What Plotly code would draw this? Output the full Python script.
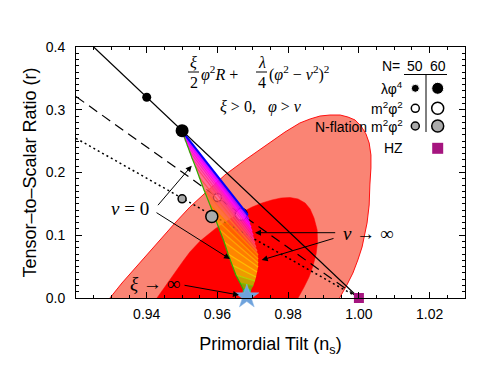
import plotly.graph_objects as go

# Planck-like confidence regions (ns, r)
c95_ns = [0.9259, 0.9296, 0.9330, 0.9367, 0.9401, 0.9438, 0.9480, 0.9522, 0.9570, 0.9621,
          0.9678, 0.9734, 0.9791, 0.9833, 0.9862, 0.9890, 0.9918, 0.9947, 0.9969, 0.9989,
          1.0006, 1.0020, 1.0029, 1.0034, 1.0034, 1.0031, 1.0029, 1.0023, 1.0017, 1.0009,
          0.9997, 0.9983, 0.9966, 0.9947, 0.9921]
c95_r = [-0.024, 0.0, 0.0239, 0.0478, 0.0701, 0.0924, 0.1195, 0.1450, 0.1705, 0.1960,
         0.2199, 0.2422, 0.2645, 0.2789, 0.2853, 0.2900, 0.2916, 0.2916, 0.2884, 0.2837,
         0.2741, 0.2614, 0.2470, 0.2279, 0.2072, 0.1801, 0.1482, 0.1195, 0.1004, 0.0813,
         0.0606, 0.0398, 0.0207, 0.0032, -0.024]

c68_ns = [0.9404, 0.9429, 0.9455, 0.9480, 0.9503, 0.9522, 0.9551, 0.9593, 0.9644, 0.9698,
          0.9726, 0.9754, 0.9780, 0.9805, 0.9828, 0.9848, 0.9862, 0.9873, 0.9882, 0.9883,
          0.9879, 0.9870, 0.9859, 0.9845, 0.9828, 0.9811]
c68_r = [-0.024, 0.0, 0.0207, 0.0414, 0.0590, 0.0733, 0.0908, 0.1100, 0.1291, 0.1450,
         0.1514, 0.1562, 0.1594, 0.1602, 0.1578, 0.1514, 0.1418, 0.1275, 0.1084, 0.0892,
         0.0701, 0.0510, 0.0335, 0.0175, 0.0, -0.024]

# model lines
lam_ns, lam_r = [0.925, 1.0], [0.40, 0.0]
m2_ns, m2_r = [0.92, 1.0], [0.321, 0.0]
nfl_ns, nfl_r = [0.92, 1.0], [0.2545, 0.0]

# model points, N = 50 and 60
lam_pts_ns, lam_pts_r = [0.94, 0.95], [0.32, 0.2667]
m2_pts_ns, m2_pts_r = [0.96, 0.9667], [0.16, 0.1333]
nfl_pts_ns, nfl_pts_r = [0.95, 0.9584], [0.158, 0.130]
hz_ns, hz_r = [1.0], [0.0]
star_ns, star_r = [0.9683], [0.002]

# non-minimal coupling fan: constant-xi lines from the v=0 edge to the v->inf edge
fan_left_ns = [0.9500, 0.9503, 0.9505, 0.9508, 0.9514, 0.9520, 0.9528, 0.9537, 0.9548, 0.9562,
               0.9579, 0.9593, 0.9607, 0.9619, 0.9630, 0.9641, 0.9652, 0.9664, 0.9672, 0.9681]
fan_left_r = [0.2661, 0.2614, 0.2566, 0.2518, 0.2438, 0.2343, 0.2231, 0.2104, 0.1928, 0.1721,
              0.1482, 0.1275, 0.1084, 0.0892, 0.0701, 0.0526, 0.0367, 0.0239, 0.0143, 0.0048]
fan_right_ns = [0.9686, 0.9689, 0.9692, 0.9695, 0.9698, 0.9701, 0.9703, 0.9706, 0.9709, 0.9712,
                0.9715, 0.9715, 0.9715, 0.9715, 0.9712, 0.9709, 0.9706, 0.9701, 0.9695, 0.9686]
fan_right_r = [0.1323, 0.1259, 0.1195, 0.1131, 0.1068, 0.1004, 0.0940, 0.0876, 0.0813, 0.0749,
               0.0685, 0.0622, 0.0558, 0.0494, 0.0414, 0.0335, 0.0271, 0.0191, 0.0127, 0.0032]
fan_colors = ["#6a00ff", "#b000ff", "#e000ff", "#ff00ff", "#ff10d0", "#ff20b0", "#ff3090",
              "#ff4070", "#ff5050", "#ff6a30", "#ff8000", "#ff9500", "#ffa500", "#ffb300",
              "#ffc000", "#e6d000", "#b0d800", "#70cc00", "#30c040", "#00d0c0"]

X_RANGE = [0.92, 1.03]
Y_RANGE = [0.0, 0.4]
OFF = 8  # page body margin
L, R, T, B = 68, 30, 39, 85
W, H = 487, 375
PW, PH = W - L - R, H - T - B


def dx(X):  # page pixel -> ns
    return X_RANGE[0] + (X - OFF - L) / PW * (X_RANGE[1] - X_RANGE[0])


def dy(Y):  # page pixel -> r
    return Y_RANGE[0] + (T + PH - (Y - OFF)) / PH * (Y_RANGE[1] - Y_RANGE[0])


def rgba(h, a):
    h = h.lstrip("#")
    return "rgba(%d,%d,%d,%s)" % (int(h[0:2], 16), int(h[2:4], 16), int(h[4:6], 16), a)


fig = go.Figure()

fig.add_trace(go.Scatter(x=c95_ns, y=c95_r, mode="lines", fill="toself", fillcolor="#fa8474",
                         line=dict(color="#ff1010", width=1)))
fig.add_trace(go.Scatter(x=c68_ns, y=c68_r, mode="lines", fill="toself", fillcolor="#ff0000",
                         line=dict(color="#ff0000", width=0.5)))

fig.add_trace(go.Scatter(x=m2_ns, y=m2_r, mode="lines", line=dict(color="black", width=1.2, dash="10px,6px")))
fig.add_trace(go.Scatter(x=nfl_ns, y=nfl_r, mode="lines", line=dict(color="black", width=1.5, dash="2px,3px")))
fig.add_trace(go.Scatter(x=lam_ns, y=lam_r, mode="lines", line=dict(color="black", width=1.2)))

fig.add_trace(go.Scatter(x=m2_pts_ns, y=m2_pts_r, mode="markers",
                         marker=dict(size=[8, 12], color="white", opacity=1,
                                     line=dict(color="black", width=1.5))))

# fan bands then lines
n = len(fan_colors)
for i in range(n - 1):
    fig.add_trace(go.Scatter(
        x=[fan_left_ns[i], fan_right_ns[i], fan_right_ns[i + 1], fan_left_ns[i + 1]],
        y=[fan_left_r[i], fan_right_r[i], fan_right_r[i + 1], fan_left_r[i + 1]],
        mode="lines", fill="toself", fillcolor=rgba(fan_colors[i], 0.75), line=dict(width=0)))
for i in range(n):
    fig.add_trace(go.Scatter(x=[fan_left_ns[i], fan_right_ns[i]], y=[fan_left_r[i], fan_right_r[i]],
                             mode="lines", line=dict(color=fan_colors[i], width=1.2)))
fig.add_trace(go.Scatter(x=fan_left_ns, y=fan_left_r, mode="lines", line=dict(color="#33aa00", width=1.2)))
fig.add_trace(go.Scatter(x=[fan_left_ns[0], fan_right_ns[0]], y=[fan_left_r[0], fan_right_r[0]],
                         mode="lines", line=dict(color="#0000ff", width=2)))

fig.add_trace(go.Scatter(x=nfl_pts_ns, y=nfl_pts_r, mode="markers",
                         marker=dict(size=[8, 12], color="#aaaaaa", opacity=1,
                                     line=dict(color="black", width=1.5))))
fig.add_trace(go.Scatter(x=lam_pts_ns, y=lam_pts_r, mode="markers",
                         marker=dict(size=[9, 13], color="black", opacity=1,
                                     line=dict(color="black", width=0))))
fig.add_trace(go.Scatter(x=star_ns, y=[v + 0.006 for v in star_r], mode="markers", cliponaxis=False,
                         marker=dict(size=9, color="rgba(0,230,190,0.6)")))
fig.add_trace(go.Scatter(x=star_ns, y=star_r, mode="markers", cliponaxis=False,
                         marker=dict(symbol="star", size=18, color="#6fa3dc", opacity=1,
                                     line=dict(color="#8fb8e8", width=0.5))))
fig.add_trace(go.Scatter(x=hz_ns, y=hz_r, mode="markers", cliponaxis=False,
                         marker=dict(symbol="square", size=10, color="#a5157f", opacity=1)))

# legend block
col50, col60 = dx(415.3), dx(437.7)
rows = [dy(88.3), dy(108.3), dy(126), dy(148.3)]
fig.add_trace(go.Scatter(x=[col50, col60], y=[rows[0]] * 2, mode="markers",
                         marker=dict(size=[8, 12], color="black", opacity=1)))
fig.add_trace(go.Scatter(x=[col50, col60], y=[rows[1]] * 2, mode="markers",
                         marker=dict(size=[8, 12], color="white", opacity=1,
                                     line=dict(color="black", width=1.5))))
fig.add_trace(go.Scatter(x=[col50, col60], y=[rows[2]] * 2, mode="markers",
                         marker=dict(size=[8, 12], color="#aaaaaa", opacity=1,
                                     line=dict(color="black", width=1.5))))
fig.add_trace(go.Scatter(x=[col60], y=[rows[3]], mode="markers",
                         marker=dict(symbol="square", size=11, color="#a5157f", opacity=1)))

sans = "Liberation Sans, Arial, sans-serif"
serif = "Liberation Serif, Times New Roman, serif"
ann = []
for txt, yy in [("λφ<sup>4</sup>", rows[0]), ("m<sup>2</sup>φ<sup>2</sup>", rows[1]),
                ("N-flation m<sup>2</sup>φ<sup>2</sup>", rows[2]), ("HZ", rows[3])]:
    ann.append(dict(x=dx(405), y=yy, text=txt, xanchor="right", yanchor="middle",
                    showarrow=False, font=dict(family=sans, size=14, color="black")))
ann.append(dict(x=dx(402), y=dy(66), text="N=", xanchor="right", yanchor="middle", showarrow=False,
                font=dict(family=sans, size=14, color="black")))
ann.append(dict(x=dx(415), y=dy(66), text="50", xanchor="center", yanchor="middle", showarrow=False,
                font=dict(family=sans, size=14, color="black")))
ann.append(dict(x=dx(438), y=dy(66), text="60", xanchor="center", yanchor="middle", showarrow=False,
                font=dict(family=sans, size=14, color="black")))

# formula
fs = dict(family=serif, size=16, color="black")
ann += [
    dict(x=dx(193.5), y=dy(62), text="<i>ξ</i>", showarrow=False, font=fs),
    dict(x=dx(193.5), y=dy(82), text="2", showarrow=False, font=fs),
    dict(x=dx(199), y=dy(73), text="<i>φ</i><sup>2</sup><i>R</i> +", xanchor="left", showarrow=False, font=fs),
    dict(x=dx(261.5), y=dy(62), text="<i>λ</i>", showarrow=False, font=fs),
    dict(x=dx(261.5), y=dy(82), text="4", showarrow=False, font=fs),
    dict(x=dx(267), y=dy(73), text="(<i>φ</i><sup>2</sup> − <i>v</i><sup>2</sup>)<sup>2</sup>",
         xanchor="left", showarrow=False, font=fs),
    dict(x=dx(261), y=dy(107), text="<i>ξ</i> > 0,\u00a0\u00a0\u00a0<i>φ</i> > <i>v</i>",
         showarrow=False, font=fs),
]

# labels with arrows
fb = dict(family=serif, size=19, color="black")
ann += [
    dict(x=dx(130), y=dy(208), text="<i>v</i> = 0", showarrow=False, font=fb),
    dict(x=dx(368), y=dy(233), text="<i>v</i> → ∞", showarrow=False, font=fb),
    dict(x=dx(155), y=dy(283), text="<i>ξ</i> → ∞", showarrow=False, font=fb),
]
arrows = [((156.7, 206.7), (191.7, 165.7)), ((155, 211.7), (230, 259)),
          ((336.7, 232.7), (255, 232.7)), ((335, 238), (261.7, 260)),
          ((183, 285), (239, 295))]
for (tx, ty), (hx, hy) in arrows:
    ann.append(dict(x=dx(hx), y=dy(hy), ax=dx(tx), ay=dy(ty), xref="x", yref="y", axref="x", ayref="y",
                    text="", showarrow=True, arrowhead=2, arrowsize=1.2, arrowwidth=1, arrowcolor="black"))

shapes = [
    dict(type="line", x0=dx(188), x1=dx(199), y0=dy(72), y1=dy(72), line=dict(color="black", width=1)),
    dict(type="line", x0=dx(256), x1=dx(267), y0=dy(72), y1=dy(72), line=dict(color="black", width=1)),
    dict(type="line", x0=dx(404), x1=dx(447), y0=dy(74.5), y1=dy(74.5), line=dict(color="black", width=1)),
    dict(type="line", x0=dx(426), x1=dx(426), y0=dy(74.5), y1=dy(132), line=dict(color="black", width=1)),
]

axis_common = dict(showline=True, linecolor="black", linewidth=1, mirror="allticks", ticks="inside",
                   ticklen=6, tickcolor="black", showgrid=False, zeroline=False,
                   tickfont=dict(family=sans, size=14, color="black"))
fig.update_layout(
    width=W, height=H, margin=dict(l=L, r=R, t=T, b=B),
    paper_bgcolor="white", plot_bgcolor="white", showlegend=False,
    xaxis=dict(range=X_RANGE, tickvals=[0.94, 0.96, 0.98, 1.00, 1.02], tickformat=".2f",
               ticklabelstandoff=3,
               minor=dict(dtick=0.005, tick0=0.92, ticks="inside", ticklen=3, tickcolor="black"),
               title=dict(text="Primordial Tilt (n<sub>s</sub>)", standoff=16,
                          font=dict(family=sans, size=18, color="black")),
               **axis_common),
    yaxis=dict(range=Y_RANGE, dtick=0.1, tickformat=".1f", ticklabelstandoff=7,
               minor=dict(dtick=0.01, ticks="inside", ticklen=3, tickcolor="black"),
               title=dict(text="Tensor–to–Scalar Ratio (r)", standoff=4,
                          font=dict(family=sans, size=18, color="black")),
               **axis_common),
    annotations=ann, shapes=shapes,
)

fig.write_html("out.html")
